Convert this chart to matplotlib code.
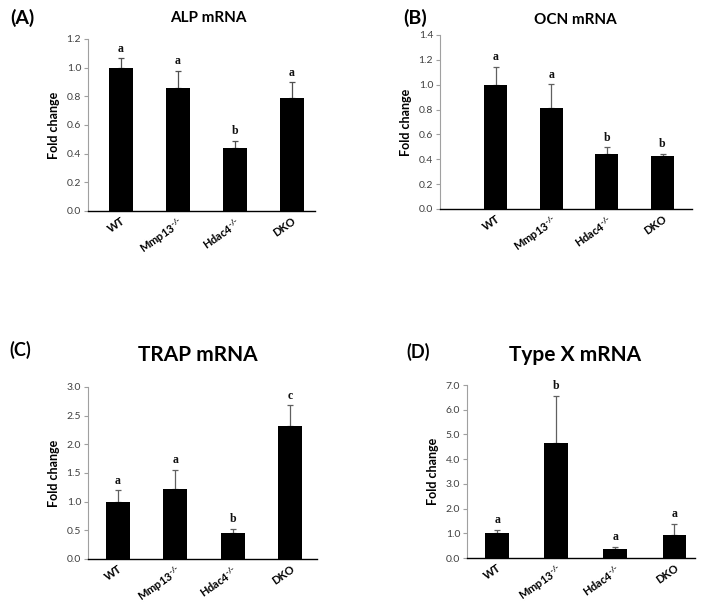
import numpy as np
import matplotlib
matplotlib.use("Agg")
import matplotlib.pyplot as plt

plt.rcParams['font.family'] = ['Lato', 'DejaVu Sans']
plt.rcParams['mathtext.fontset'] = 'custom'
plt.rcParams['mathtext.bf'] = 'Lato:bold'
plt.rcParams['mathtext.rm'] = 'Lato'

# data
groups = ['WT', 'Mmp13$^{\\mathbf{\u2010/\u2010}}$', 'Hdac4$^{\\mathbf{\u2010/\u2010}}$', 'DKO']

alp_mean = [1.00, 0.86, 0.44, 0.79]
alp_err = [0.065, 0.12, 0.05, 0.11]
alp_sig = ['a', 'a', 'b', 'a']

ocn_mean = [1.00, 0.815, 0.445, 0.425]
ocn_err = [0.145, 0.19, 0.05, 0.02]
ocn_sig = ['a', 'a', 'b', 'b']

trap_mean = [1.00, 1.22, 0.46, 2.32]
trap_err = [0.20, 0.34, 0.07, 0.36]
trap_sig = ['a', 'a', 'b', 'c']

col10_mean = [1.00, 4.65, 0.38, 0.93]
col10_err = [0.15, 1.92, 0.07, 0.45]
col10_sig = ['a', 'b', 'a', 'a']

W, H = 704, 606
fig = plt.figure(figsize=(W / 100, H / 100), dpi=100)


def px_axes(left, right, top, bottom):
    return fig.add_axes([left / W, 1 - bottom / H, (right - left) / W, (bottom - top) / H])


def panel(ax, means, errs, sig, ymax, step, xlim, width, errcol):
    x = np.arange(len(means))
    ax.errorbar(x, means, yerr=[np.zeros(len(errs)), errs], fmt='none',
                ecolor=errcol, elinewidth=0.9, capsize=2.2, capthick=0.9, zorder=1)
    ax.bar(x, means, width=width, color='black', zorder=2)
    for xi, m, e, s in zip(x, means, errs, sig):
        ax.annotate(s, (xi, m + e), xytext=(0, 2.5), textcoords='offset points',
                    ha='center', va='bottom', fontsize=8.5, fontweight='bold',
                    family='Liberation Serif', color='#111111')
    ax.set_ylim(0, ymax)
    ax.set_xlim(*xlim)
    ax.set_yticks(np.arange(0, ymax + step / 2, step))
    ax.yaxis.set_major_formatter(matplotlib.ticker.FormatStrFormatter('%.1f'))
    ax.set_xticks(x)
    ax.set_xticklabels(groups, rotation=35, ha='right', rotation_mode='anchor',
                       fontsize=8, fontweight='bold')
    ax.tick_params(axis='x', length=0, pad=3)
    ax.tick_params(axis='y', length=3, width=0.8, color='#a0a0a0', labelsize=7.5,
                   labelcolor='#404040', pad=2)
    for sp in ['top', 'right']:
        ax.spines[sp].set_visible(False)
    ax.spines['left'].set_color('#a0a0a0')
    ax.spines['left'].set_linewidth(0.8)
    ax.spines['bottom'].set_color('black')
    ax.spines['bottom'].set_linewidth(1.0)
    ax.set_ylabel('Fold change', fontsize=9, fontweight='bold', labelpad=5)


axA = px_axes(88, 315, 39, 211)
panel(axA, alp_mean, alp_err, alp_sig, 1.2, 0.2, (-0.58, 3.41), 0.42, '#505050')
axB = px_axes(440, 692, 35, 209)
panel(axB, ocn_mean, ocn_err, ocn_sig, 1.4, 0.2, (-1.0, 3.53), 0.41, '#606060')
axC = px_axes(88, 317, 387, 559)
panel(axC, trap_mean, trap_err, trap_sig, 3.0, 0.5, (-0.52, 3.47), 0.42, '#606060')
axD = px_axes(467, 695, 385, 558)
panel(axD, col10_mean, col10_err, col10_sig, 7.0, 1.0, (-0.51, 3.35), 0.40, '#606060')

# panel letters and titles
fig.text(22 / W, 1 - 18 / H, '(A)', ha='center', va='center', fontsize=14, fontweight='bold')
fig.text(208 / W, 1 - 18 / H, 'ALP mRNA', ha='center', va='center', fontsize=11, fontweight='bold')
fig.text(415 / W, 1 - 18 / H, '(B)', ha='center', va='center', fontsize=14, fontweight='bold')
fig.text(575 / W, 1 - 20 / H, 'OCN mRNA', ha='center', va='center', fontsize=11, fontweight='bold')
fig.text(20 / W, 1 - 350 / H, '(C)', ha='center', va='center', fontsize=13, fontweight='bold')
fig.text(198 / W, 1 - 355 / H, 'TRAP mRNA', ha='center', va='center', fontsize=15, fontweight='bold')
fig.text(418 / W, 1 - 352 / H, '(D)', ha='center', va='center', fontsize=13, fontweight='bold')
fig.text(575 / W, 1 - 355 / H, 'Type X mRNA', ha='center', va='center', fontsize=15, fontweight='bold')

fig.savefig('out.png', dpi=100)
